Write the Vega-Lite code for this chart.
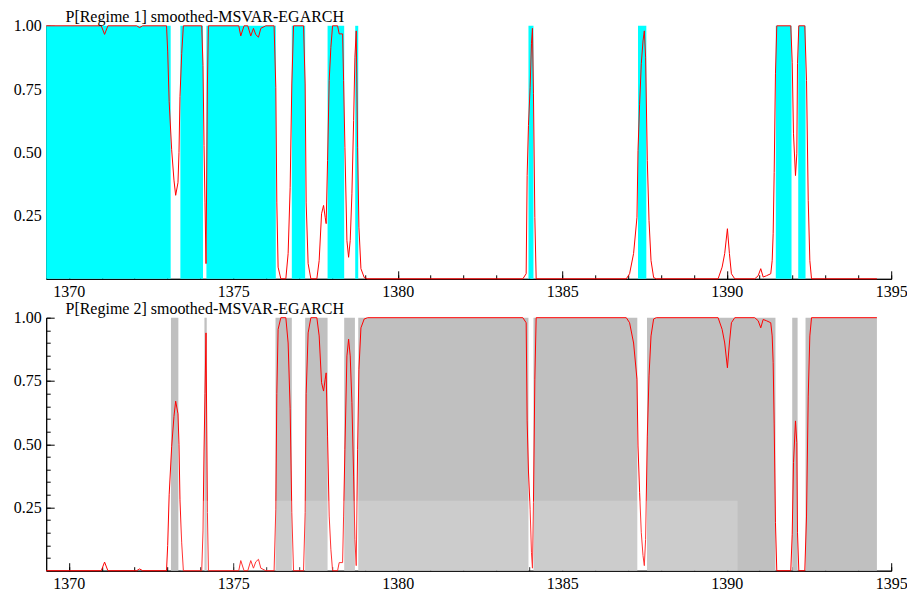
{
  "$schema": "https://vega.github.io/schema/vega-lite/v6.json",
  "padding": {"left": 13.2, "top": 8.8, "right": 0, "bottom": 0},
  "spacing": 0.9,
  "background": "white",
  "config": {
    "view": {"stroke": null},
    "font": "Liberation Serif",
    "axis": {"domainColor": "black", "tickColor": "black", "labelColor": "black", "labelFont": "Liberation Serif", "labelFontSize": 16, "grid": false, "title": null, "domainWidth": 1, "tickWidth": 1, "labelOverlap": false, "labelFlush": false, "minExtent": 0}
  },
  "datasets": {
    "series": [
      {"year": 1369.312, "p1": 1, "p2": 0},
      {"year": 1370.986, "p1": 1, "p2": 0},
      {"year": 1371.087, "p1": 0.966, "p2": 0.034},
      {"year": 1371.187, "p1": 1, "p2": 0},
      {"year": 1372.061, "p1": 1, "p2": 0},
      {"year": 1372.152, "p1": 0.993, "p2": 0.007},
      {"year": 1372.244, "p1": 1, "p2": 0},
      {"year": 1372.97, "p1": 1, "p2": 0},
      {"year": 1373.005, "p1": 0.9, "p2": 0.1},
      {"year": 1373.05, "p1": 0.7, "p2": 0.3},
      {"year": 1373.126, "p1": 0.51, "p2": 0.49},
      {"year": 1373.196, "p1": 0.39, "p2": 0.61},
      {"year": 1373.248, "p1": 0.33, "p2": 0.67},
      {"year": 1373.318, "p1": 0.38, "p2": 0.62},
      {"year": 1373.349, "p1": 0.5, "p2": 0.5},
      {"year": 1373.379, "p1": 0.72, "p2": 0.28},
      {"year": 1373.431, "p1": 0.89, "p2": 0.11},
      {"year": 1373.482, "p1": 1, "p2": 0},
      {"year": 1374.04, "p1": 1, "p2": 0},
      {"year": 1374.079, "p1": 0.843, "p2": 0.157},
      {"year": 1374.11, "p1": 0.527, "p2": 0.473},
      {"year": 1374.14, "p1": 0.3, "p2": 0.7},
      {"year": 1374.17, "p1": 0.06, "p2": 0.94},
      {"year": 1374.213, "p1": 0.77, "p2": 0.23},
      {"year": 1374.244, "p1": 1, "p2": 0},
      {"year": 1375.166, "p1": 1, "p2": 0},
      {"year": 1375.227, "p1": 0.96, "p2": 0.04},
      {"year": 1375.327, "p1": 1, "p2": 0},
      {"year": 1375.44, "p1": 1, "p2": 0},
      {"year": 1375.531, "p1": 0.96, "p2": 0.04},
      {"year": 1375.613, "p1": 0.99, "p2": 0.01},
      {"year": 1375.683, "p1": 0.965, "p2": 0.035},
      {"year": 1375.766, "p1": 0.955, "p2": 0.045},
      {"year": 1375.836, "p1": 0.99, "p2": 0.01},
      {"year": 1375.988, "p1": 1, "p2": 0},
      {"year": 1376.24, "p1": 1, "p2": 0},
      {"year": 1376.292, "p1": 0.757, "p2": 0.243},
      {"year": 1376.323, "p1": 0.3, "p2": 0.7},
      {"year": 1376.362, "p1": 0.046, "p2": 0.954},
      {"year": 1376.445, "p1": 0, "p2": 1},
      {"year": 1376.597, "p1": 0, "p2": 1},
      {"year": 1376.667, "p1": 0.1, "p2": 0.9},
      {"year": 1376.728, "p1": 0.36, "p2": 0.64},
      {"year": 1376.779, "p1": 0.77, "p2": 0.23},
      {"year": 1376.831, "p1": 1, "p2": 0},
      {"year": 1377.135, "p1": 1, "p2": 0},
      {"year": 1377.184, "p1": 0.77, "p2": 0.23},
      {"year": 1377.215, "p1": 0.3, "p2": 0.7},
      {"year": 1377.275, "p1": 0.06, "p2": 0.94},
      {"year": 1377.358, "p1": 0, "p2": 1},
      {"year": 1377.54, "p1": 0, "p2": 1},
      {"year": 1377.61, "p1": 0.072, "p2": 0.928},
      {"year": 1377.683, "p1": 0.257, "p2": 0.743},
      {"year": 1377.744, "p1": 0.29, "p2": 0.71},
      {"year": 1377.793, "p1": 0.243, "p2": 0.757},
      {"year": 1377.823, "p1": 0.218, "p2": 0.782},
      {"year": 1377.866, "p1": 0.468, "p2": 0.532},
      {"year": 1377.915, "p1": 0.784, "p2": 0.216},
      {"year": 1377.966, "p1": 0.915, "p2": 0.085},
      {"year": 1378.018, "p1": 1, "p2": 0},
      {"year": 1378.17, "p1": 1, "p2": 0},
      {"year": 1378.219, "p1": 0.968, "p2": 0.032},
      {"year": 1378.323, "p1": 0.968, "p2": 0.032},
      {"year": 1378.353, "p1": 0.784, "p2": 0.216},
      {"year": 1378.393, "p1": 0.52, "p2": 0.48},
      {"year": 1378.454, "p1": 0.151, "p2": 0.849},
      {"year": 1378.505, "p1": 0.085, "p2": 0.915},
      {"year": 1378.554, "p1": 0.151, "p2": 0.849},
      {"year": 1378.606, "p1": 0.336, "p2": 0.664},
      {"year": 1378.658, "p1": 0.626, "p2": 0.374},
      {"year": 1378.697, "p1": 0.876, "p2": 0.124},
      {"year": 1378.737, "p1": 0.98, "p2": 0.02},
      {"year": 1378.779, "p1": 0.52, "p2": 0.48},
      {"year": 1378.819, "p1": 0.204, "p2": 0.796},
      {"year": 1378.88, "p1": 0.04, "p2": 0.96},
      {"year": 1378.98, "p1": 0.005, "p2": 0.995},
      {"year": 1379.084, "p1": 0, "p2": 1},
      {"year": 1383.802, "p1": 0, "p2": 1},
      {"year": 1383.903, "p1": 0.02, "p2": 0.98},
      {"year": 1383.933, "p1": 0.408, "p2": 0.592},
      {"year": 1383.973, "p1": 0.606, "p2": 0.394},
      {"year": 1384.024, "p1": 0.757, "p2": 0.243},
      {"year": 1384.064, "p1": 0.929, "p2": 0.071},
      {"year": 1384.094, "p1": 0.99, "p2": 0.01},
      {"year": 1384.125, "p1": 0.731, "p2": 0.269},
      {"year": 1384.167, "p1": 0.243, "p2": 0.757},
      {"year": 1384.207, "p1": 0, "p2": 1},
      {"year": 1386.947, "p1": 0, "p2": 1},
      {"year": 1387.047, "p1": 0.02, "p2": 0.98},
      {"year": 1387.169, "p1": 0.1, "p2": 0.9},
      {"year": 1387.272, "p1": 0.243, "p2": 0.757},
      {"year": 1387.303, "p1": 0.507, "p2": 0.493},
      {"year": 1387.352, "p1": 0.69, "p2": 0.31},
      {"year": 1387.403, "p1": 0.85, "p2": 0.15},
      {"year": 1387.455, "p1": 0.94, "p2": 0.06},
      {"year": 1387.495, "p1": 0.98, "p2": 0.02},
      {"year": 1387.534, "p1": 0.876, "p2": 0.124},
      {"year": 1387.586, "p1": 0.468, "p2": 0.532},
      {"year": 1387.638, "p1": 0.23, "p2": 0.77},
      {"year": 1387.699, "p1": 0.072, "p2": 0.928},
      {"year": 1387.778, "p1": 0.005, "p2": 0.995},
      {"year": 1387.86, "p1": 0, "p2": 1},
      {"year": 1389.738, "p1": 0, "p2": 1},
      {"year": 1389.86, "p1": 0.046, "p2": 0.954},
      {"year": 1389.939, "p1": 0.1, "p2": 0.9},
      {"year": 1390.021, "p1": 0.198, "p2": 0.802},
      {"year": 1390.082, "p1": 0.1, "p2": 0.9},
      {"year": 1390.143, "p1": 0.02, "p2": 0.98},
      {"year": 1390.244, "p1": 0, "p2": 1},
      {"year": 1390.852, "p1": 0, "p2": 1},
      {"year": 1390.956, "p1": 0.012, "p2": 0.988},
      {"year": 1391.035, "p1": 0.04, "p2": 0.96},
      {"year": 1391.108, "p1": 0.007, "p2": 0.993},
      {"year": 1391.208, "p1": 0.012, "p2": 0.988},
      {"year": 1391.339, "p1": 0.02, "p2": 0.98},
      {"year": 1391.382, "p1": 0.072, "p2": 0.928},
      {"year": 1391.412, "p1": 0.178, "p2": 0.822},
      {"year": 1391.443, "p1": 0.42, "p2": 0.58},
      {"year": 1391.482, "p1": 0.81, "p2": 0.19},
      {"year": 1391.522, "p1": 1, "p2": 0},
      {"year": 1391.948, "p1": 1, "p2": 0},
      {"year": 1391.991, "p1": 0.856, "p2": 0.144},
      {"year": 1392.03, "p1": 0.573, "p2": 0.427},
      {"year": 1392.091, "p1": 0.408, "p2": 0.592},
      {"year": 1392.131, "p1": 0.494, "p2": 0.506},
      {"year": 1392.152, "p1": 0.85, "p2": 0.15},
      {"year": 1392.192, "p1": 1, "p2": 0},
      {"year": 1392.374, "p1": 1, "p2": 0},
      {"year": 1392.426, "p1": 0.784, "p2": 0.216},
      {"year": 1392.478, "p1": 0.31, "p2": 0.69},
      {"year": 1392.527, "p1": 0.072, "p2": 0.928},
      {"year": 1392.578, "p1": 0, "p2": 1},
      {"year": 1394.566, "p1": 0, "p2": 1}
    ],
    "shade": [
      {"regime": 1, "start": 1369.312, "end": 1373.096},
      {"regime": 1, "start": 1373.391, "end": 1374.079},
      {"regime": 1, "start": 1374.183, "end": 1376.292},
      {"regime": 1, "start": 1376.779, "end": 1377.184},
      {"regime": 1, "start": 1377.866, "end": 1378.371},
      {"regime": 1, "start": 1378.706, "end": 1378.798},
      {"regime": 1, "start": 1383.973, "end": 1384.125},
      {"regime": 1, "start": 1387.303, "end": 1387.556},
      {"regime": 1, "start": 1391.492, "end": 1391.97},
      {"regime": 1, "start": 1392.174, "end": 1392.396},
      {"regime": 2, "start": 1373.105, "end": 1373.33},
      {"regime": 2, "start": 1374.122, "end": 1374.192},
      {"regime": 2, "start": 1376.283, "end": 1376.779},
      {"regime": 2, "start": 1377.184, "end": 1377.866},
      {"regime": 2, "start": 1378.371, "end": 1378.697},
      {"regime": 2, "start": 1378.798, "end": 1383.973},
      {"regime": 2, "start": 1384.125, "end": 1387.282},
      {"regime": 2, "start": 1387.577, "end": 1391.482},
      {"regime": 2, "start": 1391.991, "end": 1392.155},
      {"regime": 2, "start": 1392.396, "end": 1394.566}
    ],
    "watermark": [
      {"start": 1373.4, "end": 1390.33, "low": 0, "high": 0.276}
    ]
  },
  "vconcat": [
    {
      "width": 845,
      "height": 253,
      "title": {"text": "P[Regime 1] smoothed-MSVAR-EGARCH", "anchor": "start", "frame": "group", "dx": 19.3, "offset": -20, "baseline": "alphabetic", "font": "Liberation Serif", "fontSize": 16, "fontWeight": "normal", "color": "black"},
      "resolve": {"axis": {"x": "independent", "y": "independent"}},
      "layer": [
        {
          "data": {"name": "shade"},
          "transform": [{"filter": "datum.regime === 1"}],
          "mark": {"type": "rect", "color": "#00FFFF"},
          "encoding": {
            "x": {"field": "start", "type": "quantitative",
              "scale": {"domain": [1369.312, 1395], "nice": false, "zero": false},
              "axis": {"orient": "bottom", "values": [1370,1371,1372,1373,1374,1375,1376,1377,1378,1379,1380,1381,1382,1383,1384,1385,1386,1387,1388,1389,1390,1391,1392,1393,1394,1395], "labels": false, "tickSize": -4}},
            "x2": {"field": "end"},
            "y": {"datum": 0, "type": "quantitative",
              "scale": {"domain": [0, 1], "nice": false},
              "axis": {"orient": "left", "values": [0.05,0.1,0.15,0.2,0.25,0.3,0.35,0.4,0.45,0.5,0.55,0.6,0.65,0.7,0.75,0.8,0.85,0.9,0.95,1], "labels": false, "tickSize": -4}},
            "y2": {"datum": 1}
          }
        },
        {
          "data": {"name": "series"},
          "mark": {"type": "line", "color": "#FF0000", "strokeWidth": 1},
          "encoding": {
            "x": {"field": "year", "type": "quantitative",
              "axis": {"orient": "bottom", "values": [1370,1375,1380,1385,1390,1395], "format": "d", "tickSize": -8, "labelPadding": 12.5, "labelOverlap": false, "labelFlush": false}},
            "y": {"field": "p1", "type": "quantitative",
              "axis": {"orient": "left", "values": [0.25,0.5,0.75,1], "format": ".2f", "tickSize": -8, "labelPadding": 13, "labelOverlap": false, "labelFlush": false}}
          }
        }
      ]
    },
    {
      "width": 845,
      "height": 253,
      "title": {"text": "P[Regime 2] smoothed-MSVAR-EGARCH", "anchor": "start", "frame": "group", "dx": 19.3, "offset": -20, "baseline": "alphabetic", "font": "Liberation Serif", "fontSize": 16, "fontWeight": "normal", "color": "black"},
      "resolve": {"axis": {"x": "independent", "y": "independent"}},
      "layer": [
        {
          "data": {"name": "shade"},
          "transform": [{"filter": "datum.regime === 2"}],
          "mark": {"type": "rect", "color": "#C0C0C0"},
          "encoding": {
            "x": {"field": "start", "type": "quantitative",
              "scale": {"domain": [1369.312, 1395], "nice": false, "zero": false},
              "axis": {"orient": "bottom", "values": [1370,1371,1372,1373,1374,1375,1376,1377,1378,1379,1380,1381,1382,1383,1384,1385,1386,1387,1388,1389,1390,1391,1392,1393,1394,1395], "labels": false, "tickSize": -4}},
            "x2": {"field": "end"},
            "y": {"datum": 0, "type": "quantitative",
              "scale": {"domain": [0, 1], "nice": false},
              "axis": {"orient": "left", "values": [0.05,0.1,0.15,0.2,0.25,0.3,0.35,0.4,0.45,0.5,0.55,0.6,0.65,0.7,0.75,0.8,0.85,0.9,0.95,1], "labels": false, "tickSize": -4}},
            "y2": {"datum": 1}
          }
        },
        {
          "data": {"name": "series"},
          "mark": {"type": "line", "color": "#FF0000", "strokeWidth": 1},
          "encoding": {
            "x": {"field": "year", "type": "quantitative",
              "axis": {"orient": "bottom", "values": [1370,1375,1380,1385,1390,1395], "format": "d", "tickSize": -8, "labelPadding": 12.5, "labelOverlap": false, "labelFlush": false}},
            "y": {"field": "p2", "type": "quantitative",
              "axis": {"orient": "left", "values": [0.25,0.5,0.75,1], "format": ".2f", "tickSize": -8, "labelPadding": 13, "labelOverlap": false, "labelFlush": false}}
          }
        },
        {
          "data": {"name": "watermark"},
          "mark": {"type": "rect", "color": "white", "opacity": 0.2},
          "encoding": {
            "x": {"field": "start", "type": "quantitative", "axis": null},
            "x2": {"field": "end"},
            "y": {"field": "low", "type": "quantitative", "axis": null},
            "y2": {"field": "high"}
          }
        }
      ]
    }
  ]
}
